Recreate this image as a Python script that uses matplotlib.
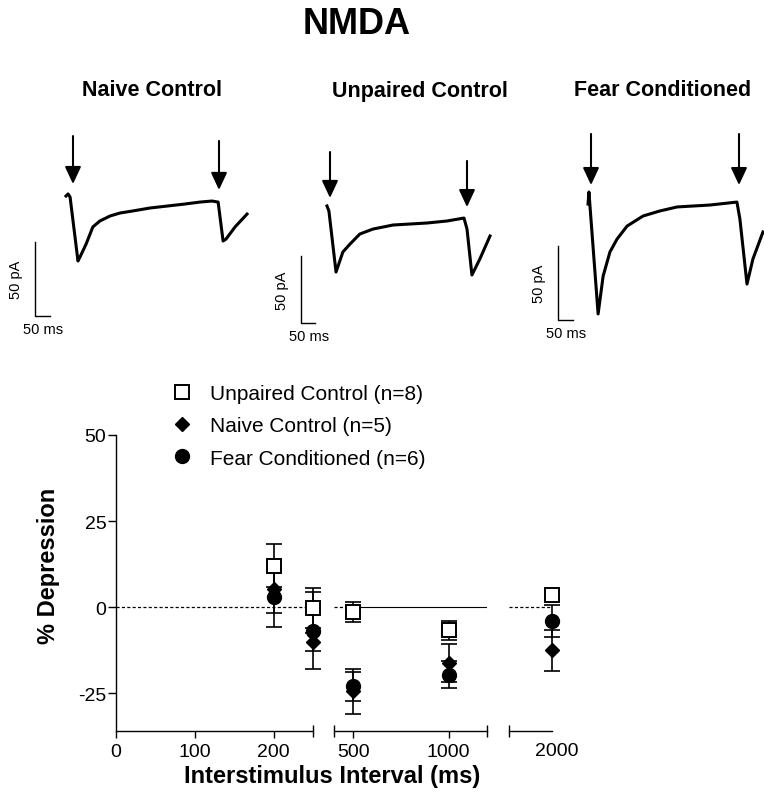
import matplotlib.pyplot as plt
import matplotlib.transforms as mtransforms
from matplotlib.lines import Line2D
import numpy as np

plt.rcParams['font.family'] = ['Liberation Sans', 'DejaVu Sans']
plt.rcParams['axes.unicode_minus'] = False

# --- Daten: Stromspuren (Zeit in ms, Strom in pA, Reiz bei 0 und 500 ms)
naive_t = [-24, -17, -10, 17, 24, 45, 68, 92, 127, 161, 205, 264, 322, 384, 435, 476, 497, 514, 524, 555, 596]
naive_i = [0, 1.4, -0.7, -43.9, -41.2, -32.4, -20.9, -16.9, -13.5, -11.5, -10.1, -8.1, -6.8, -5.4, -4.1, -3.4, -4.1, -30.4, -29.1, -20.9, -12.2]

unpaired_t = [-11, -4, 22, 47, 73, 109, 157, 230, 354, 427, 489, 500, 518, 547, 584]
unpaired_i = [1.5, -2.2, -47.8, -32.8, -26.9, -19.4, -15.7, -12.7, -11.2, -9.7, -7.5, -15.7, -50.0, -38.0, -20.9]

fear_t = [-10, -7, 24, 41, 64, 88, 122, 176, 233, 291, 402, 493, 503, 527, 547, 581]
fear_i = [-8.1, 0, -82.4, -56.8, -40.5, -31.8, -23.0, -16.2, -12.8, -10.1, -8.8, -6.8, -18.2, -62.2, -45.3, -27.0]

stim_t = [0, 500]
panel_titles = ["Naive Control", "Unpaired Control", "Fear Conditioned"]

# --- Daten: % Depression gegen Interstimulus-Intervall
isi = np.array([200, 250, 500, 1000, 2000])
unpaired_mean = np.array([12.0, -0.3, -1.5, -6.8, 3.5])
unpaired_sem = np.array([6.2, 5.8, 2.9, 2.8, 1.0])
naive_mean = np.array([5.2, -10.1, -24.5, -16.3, -12.6])
naive_sem = np.array([6.9, 2.6, 6.6, 5.6, 5.9])
fear_mean = np.array([3.0, -6.9, -23.0, -19.6, -4.0])
fear_sem = np.array([8.8, 11.2, 4.2, 3.8, 4.7])

legend_labels = ["Unpaired Control (n=8)", "Naive Control (n=5)", "Fear Conditioned (n=6)"]

W, H = 764, 803
fig = plt.figure(figsize=(W / 100, H / 100), dpi=100)


def px_axes(L, T, R, B):
    # Achse über Pixelgrenzen platzieren
    return fig.add_axes([L / W, 1 - B / H, (R - L) / W, (B - T) / H])


fig.text(357 / W, 1 - 25 / H, "NMDA", fontsize=26, fontweight="bold", ha="center", va="center")

# --- Obere Reihe: Spuren
# Box (L, T, R, B), Nullpunkt (x0, y0) in Pixel, Pixel pro ms und pro pA
panels = [
    dict(t=naive_t, i=naive_i, box=(0, 130, 256, 345), x0=73, y0=197, sx=0.292, sy=1.48,
         tip=[8.1, 4.1], tail=[40.5, 37.2], bar=(-130, -81), title_x=152),
    dict(t=unpaired_t, i=unpaired_i, box=(258, 130, 510, 345), x0=330, y0=209, sx=0.274, sy=1.34,
         tip=[7.5, 0.7], tail=[41.8, 35.1], bar=(-106, -85.8), title_x=420),
    dict(t=fear_t, i=fear_i, box=(512, 130, 764, 345), x0=591, y0=193, sx=0.296, sy=1.48,
         tip=[4.7, 4.7], tail=[39.2, 39.2], bar=(-111, -86.5), title_x=663),
]

for p, title in zip(panels, panel_titles):
    L, T, R, B = p["box"]
    ax = px_axes(L, T, R, B)
    ax.set_xlim((L - p["x0"]) / p["sx"], (R - p["x0"]) / p["sx"])
    ax.set_ylim((p["y0"] - B) / p["sy"], (p["y0"] - T) / p["sy"])
    ax.axis("off")
    ax.plot(p["t"], p["i"], "-", color="black", linewidth=2.2, solid_joinstyle="round")
    for s, tip, tail in zip(stim_t, p["tip"], p["tail"]):
        ax.annotate("", xy=(s, tip), xytext=(s, tail),
                    arrowprops=dict(arrowstyle="-|>,head_length=0.75,head_width=0.35",
                                    mutation_scale=14, lw=1.5, color="black",
                                    shrinkA=0, shrinkB=0))
    # Maßstab 50 ms / 50 pA
    bx, by = p["bar"]
    ax.plot([bx, bx, bx + 50], [by + 50, by, by], color="black", linewidth=1.0)
    ax.annotate("50 pA", xy=(bx, by + 25), xytext=(-13.5, 0), textcoords="offset points",
                rotation=90, ha="center", va="center", fontsize=10.5)
    ax.annotate("50 ms", xy=(bx, by), xytext=(6, -9.5), textcoords="offset points",
                ha="center", va="center", fontsize=10.5)
    fig.text(p["title_x"] / W, 1 - 91 / H, title, fontsize=15.5, fontweight="bold",
             ha="center", va="center")

# --- Untere Grafik: gebrochene x-Achse
ylo, yhi = -36, 50
segments = [
    dict(box=(116, 436, 313, 732), xlim=(0, 250), ticks=[0, 100, 200], caps=[250]),
    dict(box=(334, 436, 487, 732), xlim=(400, 1200), ticks=[500, 1000], caps=[400, 1200]),
    dict(box=(509, 436, 552, 732), xlim=(1780, 2000), ticks=[2000], caps=[1780]),
]
axes = []
for k, seg in enumerate(segments):
    ax = px_axes(*seg["box"])
    ax.set_xlim(*seg["xlim"])
    ax.set_ylim(ylo, yhi)
    ax.patch.set_visible(False)
    for side in ["top", "right"]:
        ax.spines[side].set_visible(False)
    ax.spines["bottom"].set_linewidth(1.0)
    if k == 0:
        ax.spines["left"].set_linewidth(1.0)
        ax.set_yticks([-25, 0, 25, 50])
        ax.tick_params(axis="y", length=6, width=1.0, pad=1, labelsize=14)
    else:
        ax.spines["left"].set_visible(False)
        ax.set_yticks([])
    ax.set_xticks(seg["ticks"])
    ax.set_xticks(seg["caps"], minor=True)
    ax.tick_params(axis="x", which="major", length=5, width=1.0, pad=4, labelsize=14)
    ax.tick_params(axis="x", which="minor", direction="inout", length=8, width=1.0)
    axes.append(ax)

# 2000 ohne Strich, Beschriftung etwas nach rechts
axes[2].tick_params(axis="x", which="major", length=0, pad=8)
shift = mtransforms.ScaledTranslation(5 / 100, 0, fig.dpi_scale_trans)
for lab in axes[2].get_xticklabels():
    lab.set_transform(lab.get_transform() + shift)

# Null-Linie
axes[0].axhline(0, color="black", linewidth=0.9, linestyle=(0, (2.5, 1.8)))
axes[1].hlines(0, segments[1]["xlim"][0], isi[2], color="black", linewidth=0.9, linestyle=(0, (2.5, 1.8)))
axes[1].hlines(0, isi[2], segments[1]["xlim"][1], color="black", linewidth=0.8)
axes[2].axhline(0, color="black", linewidth=0.9, linestyle=(0, (2.5, 1.8)))

series = [
    (naive_mean, naive_sem, dict(marker="D", markersize=7.5, markerfacecolor="black", markeredgecolor="black")),
    (fear_mean, fear_sem, dict(marker="o", markersize=10, markerfacecolor="black", markeredgecolor="black")),
    (unpaired_mean, unpaired_sem, dict(marker="s", markersize=10.5, markerfacecolor="white",
                                       markeredgecolor="black", markeredgewidth=1.4)),
]

for ax, seg in zip(axes, segments):
    lo, hi = seg["xlim"]
    m = (isi >= lo) & (isi <= hi)
    for mean, sem, style in series:
        eb = ax.errorbar(isi[m], mean[m], yerr=sem[m], fmt="none", ecolor="black",
                         elinewidth=1.2, capsize=5.5, capthick=1.2)
        for art in list(eb.lines[1]) + list(eb.lines[2]):
            art.set_clip_on(False)
    for mean, sem, style in series:
        ax.plot(isi[m], mean[m], linestyle="none", clip_on=False, zorder=4, **style)

handles = [
    Line2D([], [], linestyle="none", **series[2][2]),
    Line2D([], [], linestyle="none", **series[0][2]),
    Line2D([], [], linestyle="none", **series[1][2]),
]
fig.legend(handles, legend_labels, loc="upper left", bbox_to_anchor=(172 / W, 1 - 385 / H),
           frameon=False, fontsize=15, handlelength=1.0, handletextpad=0.8,
           labelspacing=0.64, borderpad=0, borderaxespad=0)

fig.text(332 / W, 1 - 777 / H, "Interstimulus Interval (ms)", fontsize=17, fontweight="bold",
         ha="center", va="center")
fig.text(49 / W, 1 - 566 / H, "% Depression", fontsize=17, fontweight="bold",
         ha="center", va="center", rotation=90)

fig.savefig("out.png", dpi=100)
